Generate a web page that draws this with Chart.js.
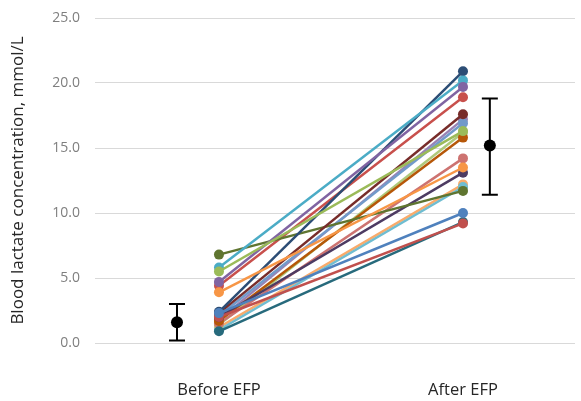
<!DOCTYPE html>
<html>
<head>
<meta charset="utf-8">
<script src="https://cdn.jsdelivr.net/npm/chart.js@4/dist/chart.umd.min.js"></script>
<style>
html,body{margin:0;padding:0;background:#fff;}
#c{display:block;}
</style>
</head>
<body>
<canvas id="c" width="581" height="401"></canvas>
<script>
const categories = ['Before EFP', 'After EFP'];
const categoryX = [1, 2];
const beforeValues = [2.3, 2.0, 5.5, 4.7, 5.8, 3.9, 2.4, 2.3, 6.8, 2.0, 0.9, 1.7, 2.1, 1.5, 1.4, 1.8, 1.0, 1.2, 4.4];
const afterValues  = [10.0, 9.2, 16.3, 19.7, 20.2, 13.5, 20.9, 17.6, 11.7, 13.1, 9.3, 15.8, 16.9, 14.2, 16.2, 17.2, 12.0, 12.2, 18.9];
const seriesColors = ['#4F81BD','#C0504D','#9BBB59','#8064A2','#4BACC6','#F79646','#2C4D75','#772C2A','#5F7530','#4D3B62','#276A7C','#B65708','#729ACA','#CD7371','#AFC97A','#9983B5','#6FBDD1','#F9AB6B','#C8504C'];
const meanX = [0.828, 2.11];
const meanValues = [1.6, 15.2];
const errLow = [0.2, 11.4];
const errHigh = [3.0, 18.8];
const yTicks = [0, 5, 10, 15, 20, 25];

const datasets = beforeValues.map((b, i) => ({
  label: 'S' + (i + 1),
  data: [{x: categoryX[0], y: b}, {x: categoryX[1], y: afterValues[i]}],
  borderColor: seriesColors[i],
  backgroundColor: seriesColors[i],
  borderWidth: 2.5,
  pointRadius: 5,
  pointBorderWidth: 0,
  pointHoverRadius: 5,
  showLine: true,
  tension: 0
}));
datasets.push({
  label: 'Mean',
  data: meanX.map((x, i) => ({x: x, y: meanValues[i]})),
  showLine: false,
  pointRadius: 6,
  pointBorderWidth: 0,
  backgroundColor: '#000',
  borderColor: '#000'
});

const errorBars = {
  id: 'errorBars',
  afterDatasetsDraw(chart) {
    const ctx = chart.ctx, xs = chart.scales.x, ys = chart.scales.y;
    ctx.save();
    ctx.strokeStyle = '#000';
    ctx.lineWidth = 2;
    meanX.forEach((mx, i) => {
      const px = xs.getPixelForValue(mx);
      const top = ys.getPixelForValue(errHigh[i]);
      const bot = ys.getPixelForValue(errLow[i]);
      ctx.beginPath();
      ctx.moveTo(px, top); ctx.lineTo(px, bot);
      ctx.moveTo(px - 8, top); ctx.lineTo(px + 8, top);
      ctx.moveTo(px - 8, bot); ctx.lineTo(px + 8, bot);
      ctx.stroke();
    });
    ctx.restore();
  }
};

new Chart(document.getElementById('c'), {
  type: 'line',
  data: { datasets },
  plugins: [errorBars],
  options: {
    responsive: false,
    animation: false,
    devicePixelRatio: 1,
    layout: { padding: { top: 18, right: 6, left: 6, bottom: 0 } },
    plugins: { legend: { display: false }, tooltip: { enabled: false } },
    scales: {
      x: {
        type: 'linear',
        min: 0.492,
        max: 2.459,
        afterBuildTicks: (axis) => { axis.ticks = categoryX.map(v => ({value: v})); },
        afterFit: (axis) => { axis.height = 58; },
        ticks: {
          callback: (v) => categories[categoryX.indexOf(v)] || '',
          color: '#262626',
          font: { family: 'Open Sans', size: 16.5 },
          padding: 37,
          maxRotation: 0,
          autoSkip: false
        },
        grid: { display: false, drawTicks: false },
        border: { display: false }
      },
      y: {
        min: 0,
        max: 25,
        afterBuildTicks: (axis) => { axis.ticks = yTicks.map(v => ({value: v})); },
        afterFit: (axis) => { axis.width = 89; axis.paddingTop = 0; axis.paddingBottom = 0; },
        ticks: {
          callback: (v) => Number(v).toFixed(1),
          color: '#7f7f7f',
          font: { family: 'Open Sans', size: 14 },
          padding: 15
        },
        grid: { color: '#d9d9d9', lineWidth: 1, drawTicks: false },
        border: { display: false },
        title: {
          display: true,
          text: 'Blood lactate concentration, mmol/L',
          color: '#262626',
          font: { family: 'Open Sans', size: 17 },
          padding: { top: 2, bottom: 4 }
        }
      }
    }
  }
});
</script>
</body>
</html>
